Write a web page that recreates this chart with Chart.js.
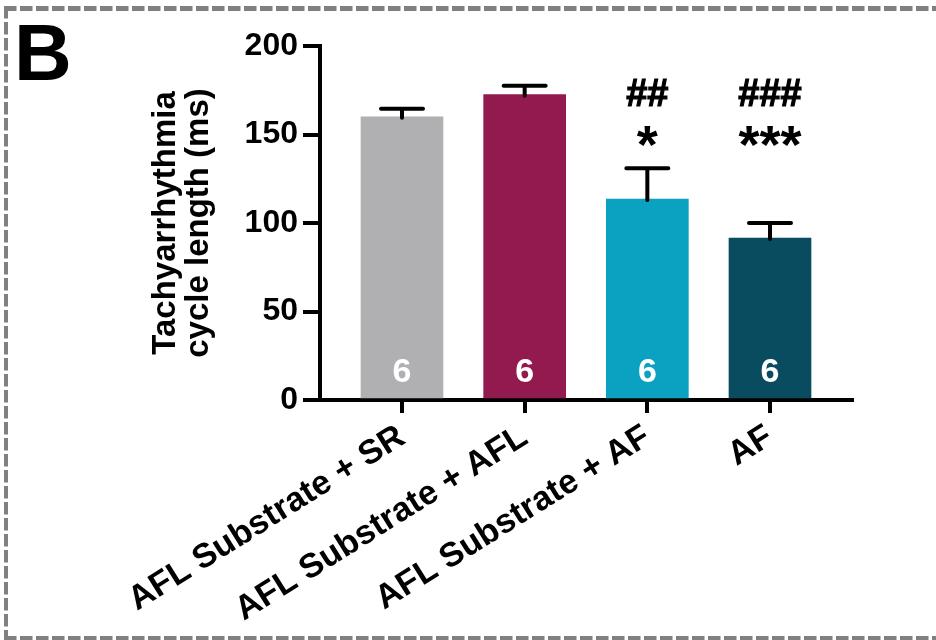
<!DOCTYPE html>
<html>
<head>
<meta charset="utf-8">
<script src="https://cdn.jsdelivr.net/npm/chart.js@4/dist/chart.umd.min.js"></script>
<style>
  html, body { margin: 0; padding: 0; background: #ffffff; }
  #wrap { position: relative; width: 936px; height: 640px; }
</style>
</head>
<body>
<div id="wrap"><canvas id="c" width="936" height="640"></canvas></div>
<script>
// ---- data ----
const panelLetter = 'B';
const categories = ['AFL Substrate + SR', 'AFL Substrate + AFL', 'AFL Substrate + AF', 'AF'];
const means = [160, 172.5, 113.5, 91.5];
const semUpper = [4.5, 5, 17.5, 8.5];
const nCounts = ['6', '6', '6', '6'];
const hashMarks = ['', '', '##', '###'];
const starMarks = ['', '', '*', '***'];
const barColors = ['#B0B0B2', '#921A4E', '#0AA2C0', '#0A4C5F'];
const yTitle = ['Tachyarrhythmia', 'cycle length (ms)'];
const yMin = 0, yMax = 200, yStep = 50;

const FONT = '"Liberation Sans", Arial, Helvetica, sans-serif';
Chart.defaults.font.family = FONT;
Chart.defaults.color = '#000';

const decorPlugin = {
  id: 'decor',
  afterDatasetsDraw(chart) {
    const ctx = chart.ctx;
    const y = chart.scales.y;
    const meta = chart.getDatasetMeta(0);
    ctx.save();
    // error bars (upper only)
    ctx.strokeStyle = '#000';
    ctx.lineWidth = 4;
    ctx.lineCap = 'round';
    meta.data.forEach((bar, i) => {
      const top = y.getPixelForValue(means[i] + semUpper[i]);
      const base = y.getPixelForValue(means[i]);
      ctx.beginPath();
      ctx.moveTo(bar.x, base + 1);
      ctx.lineTo(bar.x, top);
      ctx.moveTo(bar.x - 21, top);
      ctx.lineTo(bar.x + 21, top);
      ctx.stroke();
    });
    // n labels inside bars
    ctx.fillStyle = '#fff';
    ctx.textAlign = 'center';
    ctx.textBaseline = 'alphabetic';
    ctx.font = 'bold 34px ' + FONT;
    meta.data.forEach((bar, i) => {
      ctx.fillText(nCounts[i], bar.x, y.getPixelForValue(0) - 18);
    });
    // significance marks
    ctx.fillStyle = '#000';
    const yTop = y.getPixelForValue(yMax);
    meta.data.forEach((bar, i) => {
      if (hashMarks[i]) {
        ctx.font = 'bold 38px ' + FONT;
        ctx.lineWidth = 1.2;
        ctx.strokeStyle = '#000';
        ctx.fillText(hashMarks[i], bar.x, yTop + 60);
        ctx.strokeText(hashMarks[i], bar.x, yTop + 60);
      }
      if (starMarks[i]) {
        ctx.font = 'bold 54px ' + FONT;
        ctx.fillText(starMarks[i], bar.x, yTop + 117);
      }
    });
    ctx.restore();
  },
  afterDraw(chart) {
    const ctx = chart.ctx;
    ctx.save();
    // panel letter
    ctx.fillStyle = '#000';
    ctx.font = 'bold 80px ' + FONT;
    ctx.textAlign = 'left';
    ctx.textBaseline = 'alphabetic';
    ctx.fillText(panelLetter, 14, 80);
    // dashed frame
    ctx.strokeStyle = '#808080';
    ctx.setLineDash([12.5, 3.5]);
    ctx.lineWidth = 5;
    ctx.beginPath();
    ctx.moveTo(4, 8.5); ctx.lineTo(936, 8.5);
    ctx.stroke();
    ctx.lineWidth = 4;
    ctx.beginPath();
    ctx.moveTo(6, 6); ctx.lineTo(6, 640);
    ctx.stroke();
    ctx.beginPath();
    ctx.moveTo(4, 638); ctx.lineTo(936, 638);
    ctx.stroke();
    ctx.restore();
  }
};

new Chart(document.getElementById('c'), {
  type: 'bar',
  data: {
    datasets: [{
      data: means.map((v, i) => ({ x: i, y: v })),
      backgroundColor: barColors,
      borderWidth: 0,
      barThickness: 82
    }]
  },
  options: {
    responsive: false,
    devicePixelRatio: 1,
    animation: false,
    layout: { padding: { left: 0, right: 84, top: 46, bottom: 0 } },
    plugins: { legend: { display: false }, tooltip: { enabled: false } },
    scales: {
      x: {
        type: 'linear',
        min: -0.6685,
        max: 3.6685,
        offset: false,
        afterBuildTicks: (s) => { s.ticks = categories.map((c, i) => ({ value: i })); },
        afterFit: (s) => { s.height = 240; },
        grid: { offset: false, drawOnChartArea: false, drawTicks: true, tickLength: 13, lineWidth: 4, tickWidth: 4, color: '#000', tickColor: '#000' },
        border: { display: true, width: 4, color: '#000' },
        ticks: {
          autoSkip: false,
          minRotation: 32,
          maxRotation: 32,
          padding: 4,
          color: '#000',
          font: { size: 34, weight: 'bold' },
          callback: (v) => categories[v] ?? ''
        }
      },
      y: {
        min: yMin,
        max: yMax,
        afterFit: (s) => { s.width = 320; },
        grid: { drawOnChartArea: false, drawTicks: true, tickLength: 17, lineWidth: 4, tickWidth: 4, color: '#000', tickColor: '#000' },
        border: { display: true, width: 4, color: '#000' },
        ticks: {
          stepSize: yStep,
          padding: 5,
          color: '#000',
          font: { size: 32, weight: 'bold' }
        },
        title: {
          display: true,
          text: yTitle,
          color: '#000',
          font: { size: 33, weight: 'bold', lineHeight: 1.0 },
          padding: { top: 149, bottom: 0 }
        }
      }
    }
  },
  plugins: [decorPlugin]
});
</script>
</body>
</html>
